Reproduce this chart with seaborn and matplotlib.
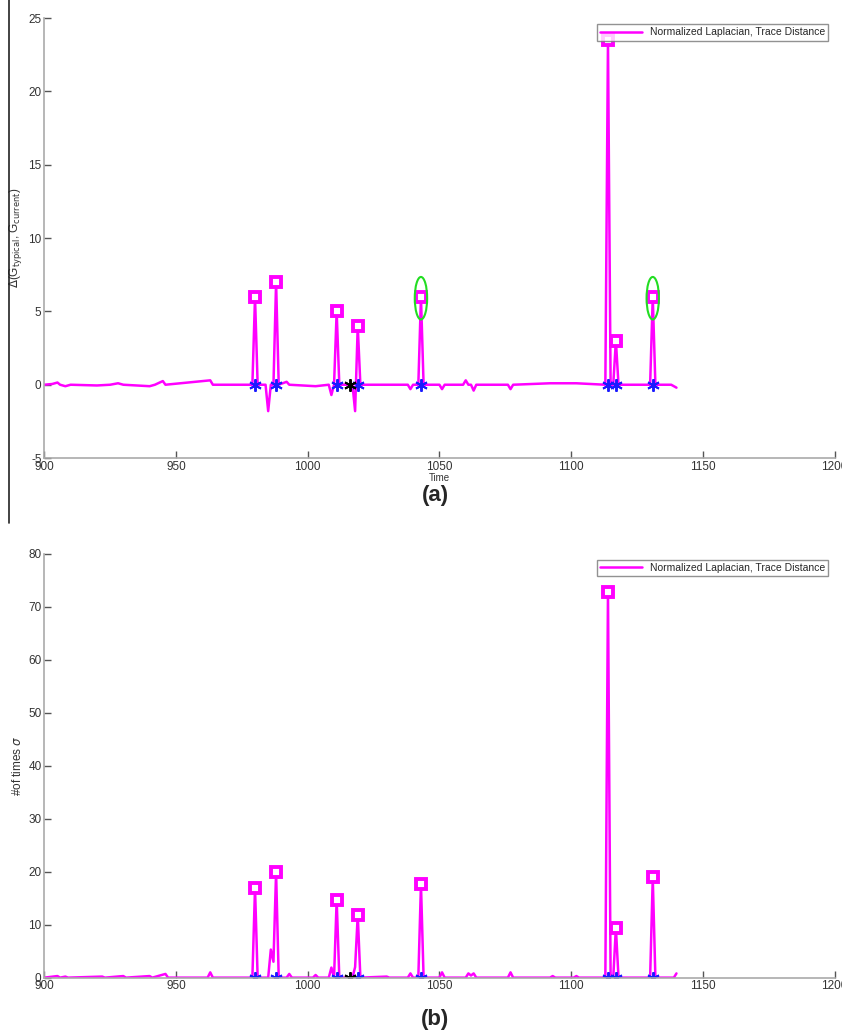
import matplotlib
matplotlib.use('Agg')
import matplotlib.pyplot as plt
import seaborn as sns
import pandas as pd
from matplotlib.patches import Ellipse
from matplotlib.lines import Line2D

# ---- data ----
time_a = [900, 903, 905, 906, 908, 910, 920, 925, 928, 930, 940, 942, 945, 946,
          963, 964, 979, 980, 981, 984, 985, 986, 987, 988, 989, 992, 993, 1003,
          1008, 1009, 1010, 1011, 1012, 1017, 1018, 1019, 1020, 1038, 1039, 1040,
          1042, 1043, 1044, 1050, 1051, 1052, 1059, 1060, 1061, 1062, 1063, 1064,
          1076, 1077, 1078, 1092, 1102, 1113, 1114, 1115, 1116, 1117, 1118, 1130,
          1131, 1132, 1138, 1140]
delta_a = [0.0, 0.05, 0.15, 0.0, -0.1, 0.0, -0.05, 0.0, 0.1, 0.0, -0.1, 0.0, 0.25, 0.0,
           0.3, 0.0, 0.0, 6.0, 0.0, 0.0, -1.8, 0.0, 0.0, 7.0, 0.0, 0.2, 0.0, -0.1,
           0.0, -0.7, 0.0, 5.0, 0.0, 0.0, -1.8, 4.0, 0.0, 0.0, -0.3, 0.0,
           0.0, 6.0, 0.0, 0.0, -0.3, 0.0, 0.0, 0.3, 0.0, 0.0, -0.4, 0.0,
           0.0, -0.3, 0.0, 0.1, 0.1, 0.0, 23.5, 0.0, 0.0, 3.0, 0.0, 0.0,
           6.0, 0.0, 0.0, -0.2]

time_b = [900, 905, 906, 908, 909, 922, 923, 930, 931, 940, 941, 946, 947, 962,
          963, 964, 979, 980, 981, 985, 986, 987, 988, 989, 992, 993, 994, 1002,
          1003, 1004, 1008, 1009, 1010, 1011, 1012, 1017, 1018, 1019, 1020, 1030,
          1031, 1038, 1039, 1040, 1042, 1043, 1044, 1050, 1051, 1052, 1060, 1061,
          1062, 1063, 1064, 1076, 1077, 1078, 1092, 1093, 1094, 1101, 1102, 1103,
          1113, 1114, 1115, 1116, 1117, 1118, 1130, 1131, 1132, 1139, 1140]
count_b = [0.0, 0.3, 0.0, 0.2, 0.0, 0.2, 0.0, 0.3, 0.0, 0.3, 0.0, 0.7, 0.0, 0.0,
           1.0, 0.0, 0.0, 17.0, 0.0, 0.0, 5.3, 3.0, 19.9, 0.0, 0.0, 0.7, 0.0, 0.0,
           0.5, 0.0, 0.0, 1.9, 0.0, 14.7, 0.0, 0.0, 2.0, 11.8, 0.0, 0.2,
           0.0, 0.0, 0.8, 0.0, 0.0, 17.7, 0.0, 0.0, 1.0, 0.0, 0.0, 0.8,
           0.4, 0.8, 0.0, 0.0, 1.0, 0.0, 0.0, 0.3, 0.0, 0.0, 0.3, 0.0,
           0.0, 72.8, 0.0, 0.0, 9.4, 0.0, 0.0, 18.9, 0.0, 0.0, 0.8]

# detected change points
events = [980, 988, 1011, 1019, 1043, 1114, 1117, 1131]
peaks_a = [6.0, 7.0, 5.0, 4.0, 6.0, 23.5, 3.0, 6.0]
peaks_b = [17.0, 19.9, 14.7, 11.8, 17.7, 72.8, 9.4, 18.9]
missed = [1016]
circled = [1043, 1131]
circled_y = [5.9, 5.9]

MAGENTA = '#ff00ff'
LEGEND = 'Normalized Laplacian, Trace Distance'

sns.set_theme(style='white')
plt.rcParams['font.family'] = ['Liberation Sans', 'DejaVu Sans']
plt.rcParams['axes.unicode_minus'] = False

fig = plt.figure(figsize=(8.42, 10.34), dpi=100)
ax_a = fig.add_axes([0.0526, 0.557, 0.9385, 0.4255])
ax_b = fig.add_axes([0.0526, 0.0545, 0.9385, 0.41])


def draw_panel(ax, t, v, peaks, ylim, yticks, ylabel):
    df = pd.DataFrame({'Time': t, 'value': v})
    sns.lineplot(data=df, x='Time', y='value', ax=ax, color=MAGENTA,
                 linewidth=1.8, label=LEGEND, sort=True)
    ax.plot(events, peaks, linestyle='none', marker='s', markersize=6.5,
            markerfacecolor='white', markeredgecolor=MAGENTA, markeredgewidth=2.8)
    ax.plot(events, [0] * len(events), linestyle='none', marker=(6, 2, 0),
            markersize=9, markeredgewidth=1.4, color='#1a1aff')
    ax.plot(missed, [0] * len(missed), linestyle='none', marker=(6, 2, 0),
            markersize=9, markeredgewidth=1.4, color='black')
    ax.set_xlim(900, 1200)
    ax.set_ylim(*ylim)
    ax.set_xticks(range(900, 1201, 50))
    ax.set_yticks(yticks)
    ax.set_ylabel(ylabel, fontsize=8.5, color='#333333', labelpad=3)
    for s in ['top', 'right']:
        ax.spines[s].set_visible(False)
    for s in ['left', 'bottom']:
        ax.spines[s].set_color('#aaaaaa')
        ax.spines[s].set_linewidth(1.2)
    ax.tick_params(direction='in', length=5, width=1, color='#555555',
                   labelsize=8.5, labelcolor='#333333', pad=2, left=True, bottom=True)
    leg = ax.legend(loc='upper right', fontsize=7.5, frameon=True, fancybox=False,
                    borderpad=0.3, handlelength=4, borderaxespad=0.6)
    leg.get_frame().set_edgecolor('#777777')
    leg.get_frame().set_linewidth(1.0)


draw_panel(ax_a, time_a, delta_a, peaks_a, (-5, 25), range(-5, 26, 5),
           r'$\Delta$(G$_{\rm typical}$, G$_{\rm current}$)')
ax_a.set_xlabel('Time', fontsize=7, color='#333333', labelpad=0)
for cx, cy in zip(circled, circled_y):
    ax_a.add_patch(Ellipse((cx, cy), width=4.7, height=2.9, fill=False,
                           edgecolor='#22dd22', linewidth=1.5, zorder=5))

draw_panel(ax_b, time_b, count_b, peaks_b, (0, 80), range(0, 81, 10),
           r'#of times $\sigma$')
ax_b.set_xlabel('')

fig.text(0.517, 0.521, '(a)', ha='center', va='center', fontsize=16,
         fontweight='bold', family='Liberation Sans')
fig.text(0.517, 0.014, '(b)', ha='center', va='center', fontsize=16,
         fontweight='bold', family='Liberation Sans')
fig.add_artist(Line2D([0.0107, 0.0107], [0.494, 1.0], color='#222222',
                      linewidth=1.2, transform=fig.transFigure))

fig.savefig('out.png', dpi=100)
plt.close(fig)
